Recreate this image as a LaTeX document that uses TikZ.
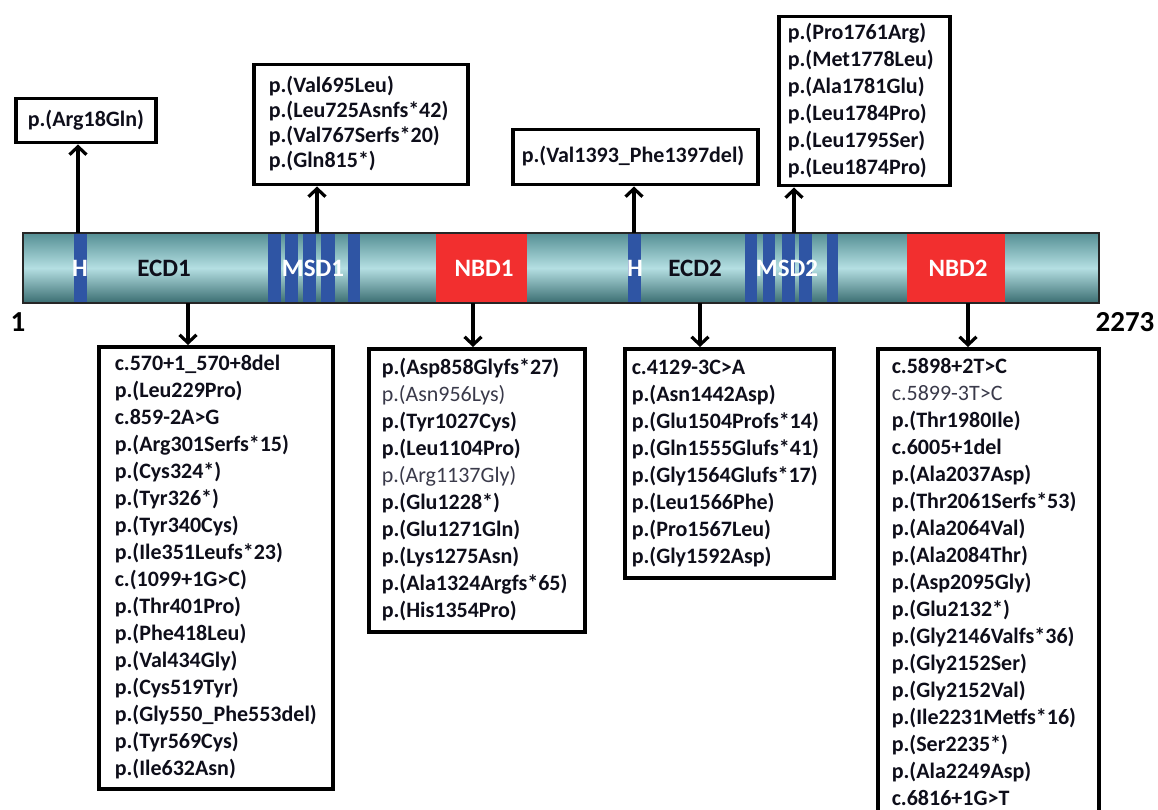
\documentclass[tikz,border=0pt]{standalone}
\usepackage{fontspec}
\setmainfont{Carlito}
\usetikzlibrary{arrows.meta}
\definecolor{bandblue}{HTML}{2F55A4}
\definecolor{domred}{HTML}{F22F2F}
\definecolor{bartop}{HTML}{558F94}
\definecolor{barmid}{HTML}{B4DFE2}
\definecolor{barbot}{HTML}{3A6D71}
\definecolor{txtdark}{HTML}{0E0E1A}
\definecolor{txtgray}{HTML}{3A3A4A}
\newcommand{\plainline}[1]{{\mdseries\color{txtgray}#1}}
\tikzset{
	mutbox/.style={draw, line width=3.5pt, anchor=north west, align=left, text=txtdark,
		font=\fontsize{22}{27}\selectfont\bfseries,
		execute at begin node=\strut, execute at end node=\strut},
	domlbl/.style={text=white, font=\fontsize{25}{30}\selectfont\bfseries},
	endlbl/.style={font=\fontsize{29}{34}\selectfont\bfseries},
	arr/.style={->, line width=3.2pt}
}
\begin{document}
\begin{tikzpicture}[x=1pt,y=-1pt,>={Straight Barb[length=8pt,width=17pt]}]
	\useasboundingbox (0,0) rectangle (1158,810);
	% protein bar
	\node[minimum width=1076pt, minimum height=70pt, inner sep=0pt,
		top color=bartop, bottom color=barbot, middle color=barmid] (bar) at (561,268) {};
	\foreach \a/\b in {74/87, 268/281, 285/298, 303/316, 321/335, 348/360,
		628/641, 745/757, 763/775, 782/795, 799/812, 827/838}
		\fill[bandblue] (\a,233) rectangle (\b,303);
	\fill[domred] (436,233) rectangle (527,303);
	\fill[domred] (907,233) rectangle (1005,303);
	\draw[line width=2.5pt, black!85] (bar.south west) rectangle (bar.north east);
	\node[domlbl] (hOne) at (80,268) {H};
	\node[domlbl, text=txtdark] (ecdOne) at (164,268) {ECD1};
	\node[domlbl] (msdOne) at (313,268) {MSD1};
	\node[domlbl] (nbdOne) at (484,268) {NBD1};
	\node[domlbl] (hTwo) at (635,268) {H};
	\node[domlbl, text=txtdark] (ecdTwo) at (695,268) {ECD2};
	\node[domlbl] (msdTwo) at (787,268) {MSD2};
	\node[domlbl] (nbdTwo) at (958,268) {NBD2};
	\node[endlbl] (firstAa) at (18,322) {1};
	\node[endlbl] (lastAa) at (1125,322) {2273};
	% where the arrows leave the bar
	\coordinate (argAt) at (78,233);
	\coordinate (msdOneAt) at (317,233);
	\coordinate (valAt) at (634,233);
	\coordinate (msdTwoAt) at (794,233);
	\coordinate (ecdOneAt) at (188,303);
	\coordinate (nbdOneAt) at (473,303);
	\coordinate (ecdTwoAt) at (700,303);
	\coordinate (nbdTwoAt) at (968,303);
	% variants above
	\node[mutbox, text width=116pt, inner xsep=12pt, inner ysep=8.5pt] (argBox) at (14,97) {p.(Arg18Gln)};
	\node[mutbox, font=\fontsize{22}{25}\selectfont\bfseries, text width=184pt, inner xsep=15pt, inner ysep=10pt] (msdOneBox) at (252,63)
		{p.(Val695Leu)\\p.(Leu725Asnfs*42)\\p.(Val767Serfs*20)\\p.(Gln815*)};
	\node[mutbox, text width=227pt, inner xsep=9pt, inner ysep=14pt] (valBox) at (511,128) {p.(Val1393\_Phe1397del)};
	\node[mutbox, text width=153pt, inner xsep=9pt, inner ysep=3.5pt] (msdTwoBox) at (777,15)
		{p.(Pro1761Arg)\\p.(Met1778Leu)\\p.(Ala1781Glu)\\p.(Leu1784Pro)\\p.(Leu1795Ser)\\p.(Leu1874Pro)};
	% variants below
	\node[mutbox, text width=202pt, inner xsep=16pt, inner ysep=5pt] (ecdOneBox) at (97,345)
		{c.570+1\_570+8del\\p.(Leu229Pro)\\c.859-2A>G\\p.(Arg301Serfs*15)\\p.(Cys324*)\\p.(Tyr326*)\\
		p.(Tyr340Cys)\\p.(Ile351Leufs*23)\\c.(1099+1G>C)\\p.(Thr401Pro)\\p.(Phe418Leu)\\p.(Val434Gly)\\
		p.(Cys519Tyr)\\p.(Gly550\_Phe553del)\\p.(Tyr569Cys)\\p.(Ile632Asn)};
	\node[mutbox, text width=190pt, inner xsep=13pt, inner ysep=6.5pt] (nbdOneBox) at (367,347)
		{p.(Asp858Glyfs*27)\\\plainline{p.(Asn956Lys)}\\p.(Tyr1027Cys)\\p.(Leu1104Pro)\\\plainline{p.(Arg1137Gly)}\\
		p.(Glu1228*)\\p.(Glu1271Gln)\\p.(Lys1275Asn)\\p.(Ala1324Argfs*65)\\p.(His1354Pro)};
	\node[mutbox, text width=195pt, inner xsep=7pt, inner ysep=6.5pt] (ecdTwoBox) at (623,347)
		{c.4129-3C>A\\p.(Asn1442Asp)\\p.(Glu1504Profs*14)\\p.(Gln1555Glufs*41)\\p.(Gly1564Glufs*17)\\
		p.(Leu1566Phe)\\p.(Pro1567Leu)\\p.(Gly1592Asp)};
	\node[mutbox, text width=193pt, inner xsep=14pt, inner ysep=6pt] (nbdTwoBox) at (876,347)
		{c.5898+2T>C\\\plainline{c.5899-3T>C}\\p.(Thr1980Ile)\\c.6005+1del\\p.(Ala2037Asp)\\p.(Thr2061Serfs*53)\\
		p.(Ala2064Val)\\p.(Ala2084Thr)\\p.(Asp2095Gly)\\p.(Glu2132*)\\p.(Gly2146Valfs*36)\\p.(Gly2152Ser)\\
		p.(Gly2152Val)\\p.(Ile2231Metfs*16)\\p.(Ser2235*)\\p.(Ala2249Asp)\\c.6816+1G>T};
	% arrows
	\draw[arr] (argAt) -- (argAt |- argBox.south);
	\draw[arr] (msdOneAt) -- (msdOneAt |- msdOneBox.south);
	\draw[arr] (valAt) -- (valAt |- valBox.south);
	\draw[arr] (msdTwoAt) -- (msdTwoAt |- msdTwoBox.south);
	\draw[arr] (ecdOneAt) -- (ecdOneAt |- ecdOneBox.north);
	\draw[arr] (nbdOneAt) -- (nbdOneAt |- nbdOneBox.north);
	\draw[arr] (ecdTwoAt) -- (ecdTwoAt |- ecdTwoBox.north);
	\draw[arr] (nbdTwoAt) -- (nbdTwoAt |- nbdTwoBox.north);
\end{tikzpicture}
\end{document}
